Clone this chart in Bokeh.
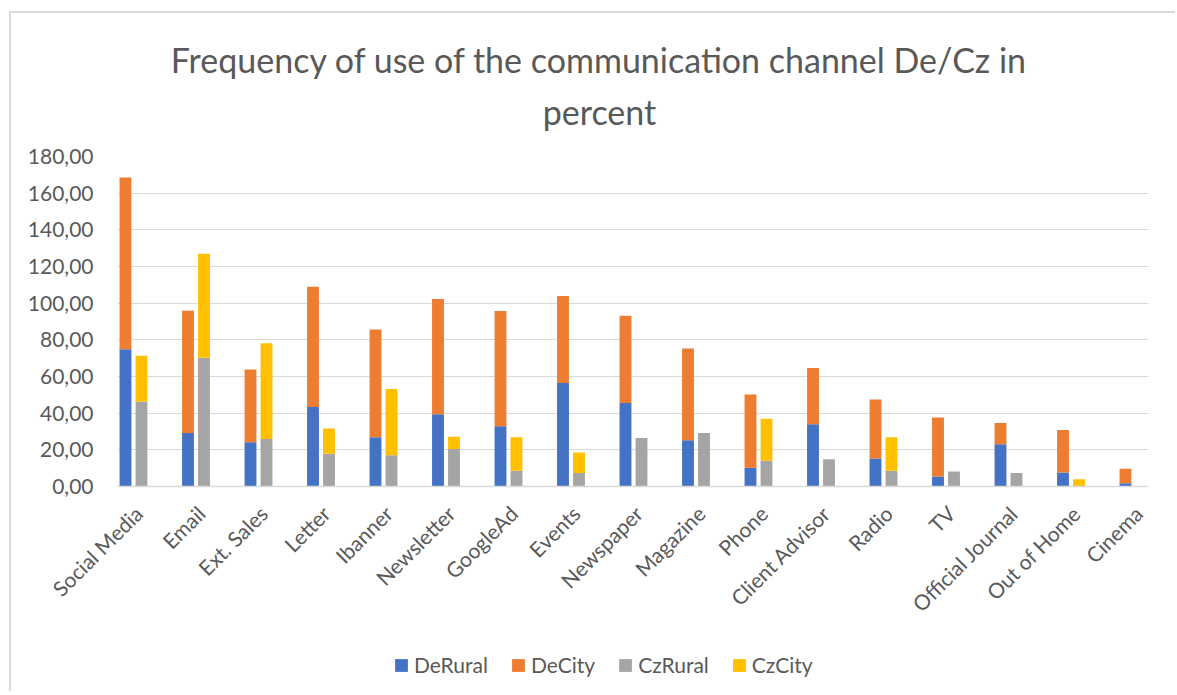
import numpy as np
from bokeh.plotting import figure
from bokeh.layouts import column
from bokeh.models import ColumnDataSource, FixedTicker, Label, Legend, LegendItem, Range1d
from bokeh.embed import file_html
from bokeh.resources import INLINE

categories = ["Social Media", "Email", "Ext. Sales", "Letter", "Ibanner", "Newsletter",
              "GoogleAd", "Events", "Newspaper", "Magazine", "Phone", "Client Advisor",
              "Radio", "TV", "Official Journal", "Out of Home", "Cinema"]
de_rural = [74.8, 29.2, 24.1, 43.4, 26.8, 39.4, 32.8, 56.5, 45.6, 25.2, 10.2, 33.9, 15.3, 5.5, 23.0, 7.7, 1.8]
de_city = [93.7, 66.7, 39.7, 65.6, 58.9, 62.9, 62.9, 47.4, 47.6, 50.1, 40.0, 30.8, 32.1, 32.2, 11.6, 23.1, 7.9]
cz_rural = [46.3, 70.2, 25.9, 17.9, 17.1, 20.4, 8.6, 7.3, 26.4, 29.2, 14.1, 14.9, 8.6, 8.2, 7.3, 0.0, 0.0]
cz_city = [25.0, 56.7, 52.3, 13.8, 36.1, 6.8, 18.2, 11.3, 0.0, 0.0, 22.9, 0.0, 18.2, 0.0, 0.0, 4.0, 0.0]
y_ticks = [0, 20, 40, 60, 80, 100, 120, 140, 160, 180]
series_names = ["DeRural", "DeCity", "CzRural", "CzCity"]
colors = ["#4472C4", "#ED7D31", "#A5A5A5", "#FFC000"]
title_lines = ["Frequency of use of the communication channel De/Cz in", "percent"]

TXT = "#595959"
GRID = "#d9d9d9"
FONT = "Lato"
W = 1166
BL, BR = 106, 29   # left / right borders shared by all stacked figures
FW = W - BL - BR   # frame width in pixels

# ---------- title strip ----------
pt = figure(width=W, height=131, output_backend="svg", toolbar_location=None,
            x_range=Range1d(0, FW), y_range=Range1d(131, 0),
            x_axis_type=None, y_axis_type=None,
            min_border_left=BL, min_border_right=BR, min_border_top=0, min_border_bottom=0)
pt.outline_line_color = None
pt.add_layout(Label(x=482, y=46, text=title_lines[0], text_align="center",
                    text_baseline="alphabetic", text_font=FONT, text_font_size="34px",
                    text_color=TXT))
pt.add_layout(Label(x=482, y=98, text=title_lines[1], text_align="center",
                    text_baseline="alphabetic", text_font=FONT, text_font_size="34px",
                    text_color=TXT))

# ---------- main chart ----------
idx = np.arange(len(categories))
src = ColumnDataSource(dict(
    de_x=idx - 0.128, cz_x=idx + 0.128,
    de_rural=de_rural, de_city=de_city, cz_rural=cz_rural, cz_city=cz_city,
))

p = figure(width=W, height=496, output_backend="svg", toolbar_location=None,
           x_range=Range1d(-0.256, 16.24), y_range=Range1d(0, 180),
           min_border_left=BL, min_border_right=BR, min_border_top=12, min_border_bottom=154)
p.outline_line_color = None
p.background_fill_color = "white"
p.border_fill_color = "white"

de_r = p.vbar_stack(["de_rural", "de_city"], x="de_x", width=0.19,
                    fill_color=colors[:2], line_color=None, source=src)
cz_r = p.vbar_stack(["cz_rural", "cz_city"], x="cz_x", width=0.19,
                    fill_color=colors[2:], line_color=None, source=src)

label_ticks = [float(i) + 0.08 for i in idx]
p.xaxis.ticker = FixedTicker(ticks=label_ticks)
p.xaxis.major_label_overrides = {t: c for t, c in zip(label_ticks, categories)}
p.xaxis.major_label_orientation = np.pi / 4
p.xaxis.major_label_text_font = FONT
p.xaxis.major_label_text_font_size = "21px"
p.xaxis.major_label_text_color = TXT
p.xaxis.major_tick_line_color = None
p.xaxis.minor_tick_line_color = None
p.xaxis.axis_line_color = GRID
p.xaxis.axis_line_width = 1.5
p.xaxis.major_label_standoff = 17
p.xgrid.visible = False

p.yaxis.ticker = FixedTicker(ticks=y_ticks)
p.yaxis.major_label_overrides = {t: f"{t:.2f}".replace(".", ",") for t in y_ticks}
p.yaxis.major_label_text_font = FONT
p.yaxis.major_label_text_font_size = "21px"
p.yaxis.major_label_text_color = TXT
p.yaxis.major_tick_line_color = None
p.yaxis.minor_tick_line_color = None
p.yaxis.axis_line_color = None
p.yaxis.major_label_standoff = 18
p.ygrid.grid_line_color = GRID
p.ygrid.grid_line_width = 1.2

# ---------- legend strip ----------
pl = figure(width=W, height=53, output_backend="svg", toolbar_location=None,
            x_range=Range1d(0, 1), y_range=Range1d(0, 1),
            x_axis_type=None, y_axis_type=None,
            min_border_left=BL, min_border_right=BR, min_border_top=0, min_border_bottom=0)
pl.outline_line_color = None
# zero-size proxy glyphs that only carry the legend swatch styles
proxies = [pl.vbar(x=[0], top=[0], bottom=[0], width=0, fill_color=c, line_color=None)
           for c in colors]
legend = Legend(items=[LegendItem(label=n, renderers=[r]) for n, r in zip(series_names, proxies)],
                orientation="horizontal", location=(276, 16),
                border_line_color=None, background_fill_alpha=0, padding=0, margin=0,
                spacing=22, label_standoff=5, glyph_width=16, glyph_height=16,
                label_text_font=FONT, label_text_font_size="21px", label_text_color=TXT)
pl.add_layout(legend, "center")

layout = column(pt, p, pl, spacing=0)
layout.margin = (13, 0, 0, 11)
# chart-area frame on the left and top, drawn outside the box so it does not affect layout
layout.styles = {"box-shadow": f"-2px -2px 0 0 {GRID}"}

open("out.html", "w").write(file_html(layout, INLINE))
